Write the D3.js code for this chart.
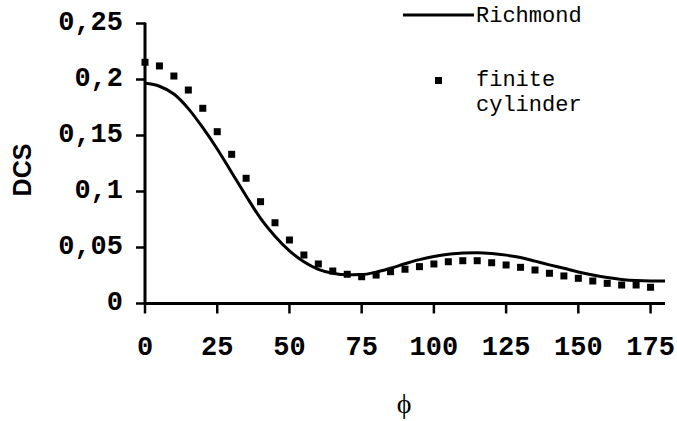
<!DOCTYPE html>
<html>
<head>
<meta charset="utf-8">
<script src="https://cdn.jsdelivr.net/npm/d3@7"></script>
<style>
  html, body { margin: 0; padding: 0; background: #fff; }
  svg { display: block; }
</style>
</head>
<body>
<svg id="chart" width="677" height="421"></svg>
<script>
// ---- data ----
const xTicks = [0, 25, 50, 75, 100, 125, 150, 175];
const yTicks = [0, 0.05, 0.1, 0.15, 0.2, 0.25];
const yTickLabels = ["0", "0,05", "0,1", "0,15", "0,2", "0,25"];

const richmondPhi = [0,5,10,15,20,25,30,35,40,45,50,55,60,65,70,75,80,85,90,95,100,105,110,115,120,125,130,135,140,145,150,155,160,165,170,175,180];
const richmondDCS = [0.1966,0.194,0.187,0.174,0.157,0.138,0.117,0.096,0.076,0.060,0.047,0.0373,0.0305,0.0270,0.0256,0.0258,0.0280,0.0315,0.0355,0.0392,0.0420,0.0440,0.0452,0.0454,0.0447,0.0432,0.0410,0.0378,0.0345,0.0314,0.0282,0.0255,0.0232,0.0215,0.0205,0.0202,0.0202];

const cylPhi = [0,5,10,15,20,25,30,35,40,45,50,55,60,65,70,75,80,85,90,95,100,105,110,115,120,125,130,135,140,145,150,155,160,165,170,175];
const cylDCS = [0.2154,0.2121,0.2031,0.1906,0.1743,0.1534,0.1332,0.1118,0.0909,0.0721,0.0567,0.0433,0.0353,0.0290,0.0261,0.0239,0.0254,0.0284,0.0306,0.0329,0.0353,0.0373,0.0382,0.0382,0.0364,0.0344,0.0323,0.0299,0.0270,0.0246,0.0225,0.0201,0.0180,0.0165,0.0165,0.0145];

const legendLabels = ["Richmond", "finite", "cylinder"];

// ---- layout ----
const svg = d3.select("#chart");
const x = d3.scaleLinear().domain([0, 180]).range([145, 665]);
const y = d3.scaleLinear().domain([0, 0.25]).range([303.5, 23.5]);

const monoBold = "'Liberation Mono', 'Courier New', monospace";

// axes lines
svg.append("line")
  .attr("x1", x(0)).attr("x2", x(180))
  .attr("y1", y(0)).attr("y2", y(0))
  .attr("stroke", "#000").attr("stroke-width", 3);
svg.append("line")
  .attr("x1", x(0)).attr("x2", x(0))
  .attr("y1", y(0.25) - 1).attr("y2", y(0) + 1)
  .attr("stroke", "#000").attr("stroke-width", 3);

// x ticks
const xAxisG = svg.append("g");
xAxisG.selectAll("line").data(xTicks).join("line")
  .attr("x1", d => x(d)).attr("x2", d => x(d))
  .attr("y1", y(0)).attr("y2", y(0) + 10)
  .attr("stroke", "#000").attr("stroke-width", 2.5);
xAxisG.selectAll("text").data(xTicks).join("text")
  .attr("x", d => x(d)).attr("y", 355)
  .attr("text-anchor", "middle")
  .attr("font-family", monoBold).attr("font-weight", "bold")
  .attr("font-size", 27)
  .text(d => d);

// y ticks
const yAxisG = svg.append("g");
yAxisG.selectAll("line").data(yTicks).join("line")
  .attr("x1", x(0) - 9).attr("x2", x(0))
  .attr("y1", d => y(d)).attr("y2", d => y(d))
  .attr("stroke", "#000").attr("stroke-width", 2.5);
yAxisG.selectAll("text").data(yTicks).join("text")
  .attr("x", 123).attr("y", d => y(d) + 6)
  .attr("text-anchor", "end")
  .attr("font-family", monoBold).attr("font-weight", "bold")
  .attr("font-size", 27)
  .text((d, i) => yTickLabels[i]);

// axis titles
svg.append("text")
  .attr("transform", "translate(31,170) rotate(-90)")
  .attr("text-anchor", "middle")
  .attr("font-family", "'Liberation Sans', Arial, sans-serif")
  .attr("font-weight", "bold").attr("font-size", 25)
  .text("DCS");
svg.append("text")
  .attr("x", 404).attr("y", 413)
  .attr("text-anchor", "middle")
  .attr("font-family", "'Liberation Serif', 'DejaVu Serif', serif")
  .attr("font-size", 28)
  .text("\u03D5");

// Richmond line
const line = d3.line()
  .x((d, i) => x(richmondPhi[i]))
  .y(d => y(d))
  .curve(d3.curveMonotoneX);
svg.append("path")
  .datum(richmondDCS)
  .attr("d", line)
  .attr("fill", "none").attr("stroke", "#000").attr("stroke-width", 3);

// finite cylinder squares
const sq = 7;
svg.append("g").selectAll("rect").data(cylDCS).join("rect")
  .attr("x", (d, i) => x(cylPhi[i]) - sq / 2)
  .attr("y", d => y(d) - sq / 2)
  .attr("width", sq).attr("height", sq)
  .attr("fill", "#000");

// legend
const mono = "'Liberation Mono', 'Courier New', monospace";
svg.append("line")
  .attr("x1", 403).attr("x2", 474).attr("y1", 15).attr("y2", 15)
  .attr("stroke", "#000").attr("stroke-width", 3);
svg.append("text").attr("x", 476).attr("y", 22)
  .attr("font-family", mono).attr("font-size", 22).text(legendLabels[0]);
svg.append("rect").attr("x", 435).attr("y", 77).attr("width", 7).attr("height", 7).attr("fill", "#000");
svg.append("text").attr("x", 476).attr("y", 86)
  .attr("font-family", mono).attr("font-size", 22).text(legendLabels[1]);
svg.append("text").attr("x", 476).attr("y", 111)
  .attr("font-family", mono).attr("font-size", 22).text(legendLabels[2]);
</script>
</body>
</html>
